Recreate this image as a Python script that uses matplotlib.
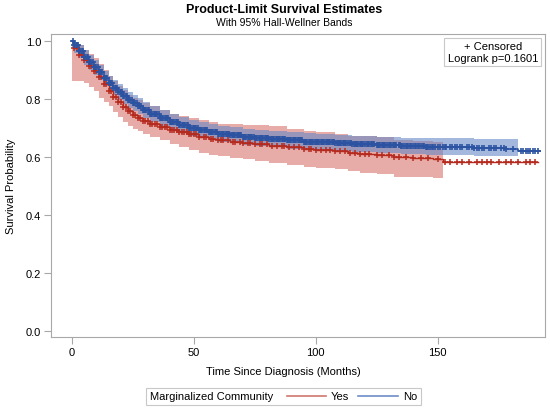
import numpy as np
import matplotlib.pyplot as plt
from matplotlib.lines import Line2D
from matplotlib.patches import Rectangle

plt.rcParams['font.family'] = ['Liberation Sans', 'DejaVu Sans']

# Kaplan-Meier step nodes: (months, survival)
yes_t = [0, 1, 3, 5, 7, 9, 11, 13, 15, 17, 19, 21, 23, 25, 27, 29, 32, 36, 40, 44, 48, 52, 56, 60,
         65, 70, 75, 81, 88, 95, 100, 108, 113, 118, 125, 132, 140, 148, 152]
yes_s = [1.0, 0.975, 0.952, 0.933, 0.915, 0.897, 0.875, 0.852, 0.828, 0.807, 0.789, 0.772, 0.757,
         0.745, 0.734, 0.724, 0.714, 0.704, 0.693, 0.685, 0.678, 0.669, 0.663, 0.657, 0.652, 0.648,
         0.643, 0.639, 0.633, 0.628, 0.625, 0.62, 0.612, 0.61, 0.607, 0.600, 0.596, 0.592, 0.584]
yes_lo = [0.863, 0.863, 0.863, 0.855, 0.84, 0.826, 0.805, 0.79, 0.775, 0.755, 0.738, 0.722, 0.708,
          0.697, 0.688, 0.679, 0.668, 0.658, 0.645, 0.633, 0.625, 0.615, 0.608, 0.602, 0.596, 0.592,
          0.587, 0.578, 0.572, 0.566, 0.562, 0.557, 0.55, 0.545, 0.541, 0.532, 0.53, 0.527, 0.527]
yes_hi = [1.0, 0.99, 0.985, 0.97, 0.955, 0.94, 0.92, 0.90, 0.88, 0.862, 0.845, 0.83, 0.815, 0.805,
          0.795, 0.785, 0.775, 0.762, 0.748, 0.742, 0.735, 0.727, 0.72, 0.715, 0.712, 0.71, 0.709,
          0.706, 0.698, 0.69, 0.686, 0.68, 0.673, 0.671, 0.668, 0.66, 0.655, 0.65, 0.65]
yes_end = 191

no_t = [0, 1, 3, 5, 7, 9, 11, 13, 15, 17, 19, 21, 23, 25, 27, 29, 32, 36, 40, 44, 48, 52, 56, 60,
        65, 70, 75, 81, 88, 95, 100, 108, 115, 125, 135, 145, 152, 165, 178, 183]
no_s = [1.0, 0.987, 0.965, 0.946, 0.928, 0.911, 0.892, 0.873, 0.855, 0.839, 0.825, 0.811, 0.798,
        0.786, 0.775, 0.762, 0.749, 0.735, 0.722, 0.711, 0.701, 0.692, 0.685, 0.680, 0.675, 0.670,
        0.666, 0.662, 0.657, 0.653, 0.650, 0.647, 0.645, 0.641, 0.638, 0.635, 0.633, 0.630, 0.628,
        0.621]
no_lo = [0.975, 0.958, 0.94, 0.918, 0.9, 0.883, 0.865, 0.845, 0.827, 0.812, 0.797, 0.783, 0.77,
         0.758, 0.747, 0.734, 0.721, 0.707, 0.694, 0.683, 0.673, 0.664, 0.657, 0.652, 0.647, 0.642,
         0.638, 0.634, 0.629, 0.625, 0.622, 0.619, 0.617, 0.613, 0.61, 0.607, 0.605, 0.603, 0.602,
         0.602]
no_hi = [1.0, 0.998, 0.985, 0.968, 0.952, 0.936, 0.916, 0.898, 0.88, 0.864, 0.85, 0.837, 0.825,
         0.813, 0.802, 0.789, 0.776, 0.762, 0.749, 0.738, 0.728, 0.72, 0.713, 0.707, 0.702, 0.698,
         0.694, 0.69, 0.685, 0.681, 0.678, 0.675, 0.673, 0.67, 0.667, 0.665, 0.664, 0.662, 0.662,
         0.662]
no_band_end = 183
no_end = 192

# censored times (months)
yes_cens = [1, 2, 3, 4, 5, 6, 7, 8, 9, 10, 11, 12, 13, 14, 15, 16, 17, 18, 19, 20, 21, 22, 23, 24,
            25, 26, 27, 28, 29, 30, 31, 32, 33, 34, 35, 36, 37, 38, 39, 40, 41, 42, 43, 44, 45, 46,
            47, 48, 49, 50, 51, 52, 54, 55, 57, 58, 60, 61, 62, 64, 66, 67, 69, 70, 72, 73, 75, 77,
            78, 80, 82, 84, 86, 87, 89, 91, 93, 95, 97, 98, 100, 102, 104, 106, 108, 110, 112, 114,
            116, 118, 120, 122, 125, 127, 130, 132, 134, 137, 140, 143, 146, 150, 153, 155, 158,
            160, 163, 166, 168, 170, 172, 175, 178, 180, 183, 186, 188, 190]
no_cens = [0.5, 1, 1.5, 2, 2.5, 3, 3.5, 4, 4.5, 5, 5.5, 6, 6.5, 7, 7.5, 8, 8.5, 9, 9.5, 10, 10.5,
           11, 11.5, 12, 12.5, 13, 13.5, 14, 14.5, 15, 15.5, 16, 16.5, 17, 17.5, 18, 18.5, 19, 19.5,
           20, 20.5, 21, 21.5, 22, 22.5, 23, 23.5, 24, 24.5, 25, 25.5, 26, 26.5, 27, 27.5, 28, 28.5,
           29, 29.5, 30, 30.5, 31, 31.5, 32, 32.5, 33, 33.5, 34, 34.5, 35, 35.5, 36, 36.5, 37, 37.5,
           38, 38.5, 39, 39.5, 40, 40.5, 41, 41.5, 42, 42.5, 43, 43.5, 44, 44.5, 45, 45.5, 46, 46.5,
           47, 47.5, 48, 48.5, 49, 49.5, 50, 50.5, 51, 51.5, 52, 52.5, 53, 53.5, 54, 54.5, 55, 55.5,
           56, 56.5, 57, 57.5, 58, 58.5, 59, 59.5, 60, 60.5, 61, 61.5, 62, 62.5, 63, 63.5, 64, 64.5,
           65, 65.5, 66, 66.5, 67, 67.5, 68, 68.5, 69, 69.5, 70, 70.5, 71, 71.5, 72, 72.5, 73, 73.5,
           74, 74.5, 75, 75.5, 76, 76.5, 77, 77.5, 78, 78.5, 79, 79.5, 80, 80.5, 81, 81.5, 82, 82.5,
           83, 83.5, 84, 84.5, 85, 85.5, 86, 86.5, 87, 87.5, 88, 88.5, 89, 89.5, 90, 90.5, 91, 91.5,
           92, 92.5, 93, 93.5, 94, 94.5, 95, 95.5, 96, 96.5, 97, 97.5, 98, 98.5, 99, 99.5, 100,
           100.5, 101, 101.5, 102, 102.5, 103, 103.5, 104, 104.5, 105, 105.5, 106, 106.5, 107,
           107.5, 108, 108.5, 109, 109.5, 110, 110.5, 111, 111.5, 112, 112.5, 113, 114, 114.5, 115,
           115.5, 116, 116.5, 117, 117.5, 118, 118.5, 119, 119.5, 120, 121, 121.5, 122, 122.5,
           123, 123.5, 124, 125, 125.5, 126, 126.5, 127, 127.5, 128, 128.5, 129, 130, 130.5, 131,
           131.5, 132, 132.5, 133, 134, 134.5, 135, 135.5, 136, 137, 137.5, 138, 138.5, 139, 140,
           140.5, 141, 142, 142.5, 143, 144, 144.5, 145, 145.5, 146, 147, 147.5, 148, 149, 150,
           151, 152, 153, 153.5, 155, 156, 157, 158, 159, 160, 162, 163, 164, 165, 166, 167, 168,
           169, 171, 172, 173, 174, 176, 177, 178, 181, 184, 185, 186, 187, 188, 189, 190, 191]

red = '#B52A1E'
blue = '#2B53A1'


def step_value(t_nodes, s_nodes, t):
    idx = np.searchsorted(t_nodes, t, side='right') - 1
    return np.array(s_nodes)[idx]


fig = plt.figure(figsize=(5.5, 4.1), dpi=100)
ax = fig.add_axes([0.0927, 0.1756, 0.8983, 0.739])

# bands
ax.fill_between(yes_t + [yes_t[-1]], yes_lo + [yes_lo[-1]], yes_hi + [yes_hi[-1]],
                step='post', color='#D8766C', alpha=0.6, lw=0)
ax.fill_between(no_t + [no_band_end], no_lo + [no_lo[-1]], no_hi + [no_hi[-1]],
                step='post', color='#6788C6', alpha=0.6, lw=0)

# curves
ax.step(yes_t + [yes_end], yes_s + [yes_s[-1]], where='post', color=red, lw=1)
ax.step(no_t + [no_end], no_s + [no_s[-1]], where='post', color=blue, lw=1.2)
ax.plot(yes_cens, step_value(yes_t, yes_s, yes_cens), ls='none', marker='+', ms=5, mew=1.1, color=red)
ax.plot(no_cens, step_value(no_t, no_s, no_cens), ls='none', marker='+', ms=5, mew=1.2, color=blue)

ax.set_xlim(-8.6, 194)
ax.set_ylim(-0.021, 1.024)
ax.set_xticks([0, 50, 100, 150])
ax.set_yticks([0.0, 0.2, 0.4, 0.6, 0.8, 1.0])
ax.set_yticklabels(['0.0', '0.2', '0.4', '0.6', '0.8', '1.0'])
for sp in ax.spines.values():
    sp.set_color('#A8A8A8')
ax.tick_params(colors='#A8A8A8', labelcolor='black', labelsize=8, length=5, width=0.8, pad=2)
ax.set_xlabel('Time Since Diagnosis (Months)', fontsize=8)
ax.xaxis.set_label_coords((283 - 51) / 494, -29 / 303)
ax.set_ylabel('Survival Probability', fontsize=8, labelpad=7)

ax.text(0.986, 0.977, '+ Censored\nLogrank p=0.1601', transform=ax.transAxes, ha='right', va='top',
        fontsize=8, multialignment='center', linespacing=1.25,
        bbox=dict(boxstyle='square,pad=0.3', fc='white', ec='#C8C8C8', lw=0.8))

fig.text(284 / 550, 1 - 10 / 410, 'Product-Limit Survival Estimates', ha='center', va='center',
         fontsize=9, fontweight='bold')
fig.text(284 / 550, 1 - 23.5 / 410, 'With 95% Hall-Wellner Bands', ha='center', va='center', fontsize=7.5)

# bottom legend
fig.patches.append(Rectangle((146 / 550, 1 - 406 / 410), 275 / 550, 17 / 410, transform=fig.transFigure,
                             fc='white', ec='#C8C8C8', lw=0.8))
ly = 1 - 397 / 410
fig.text(150 / 550, ly, 'Marginalized Community', ha='left', va='center', fontsize=8)
fig.add_artist(Line2D([287 / 550, 326 / 550], [ly, ly], color='#D0766E', lw=1.2))
fig.text(331 / 550, ly, 'Yes', ha='left', va='center', fontsize=8)
fig.add_artist(Line2D([358 / 550, 398 / 550], [ly, ly], color='#6D8CC8', lw=1.2))
fig.text(403 / 550, ly, 'No', ha='left', va='center', fontsize=8)

fig.savefig('out.png', dpi=100)
